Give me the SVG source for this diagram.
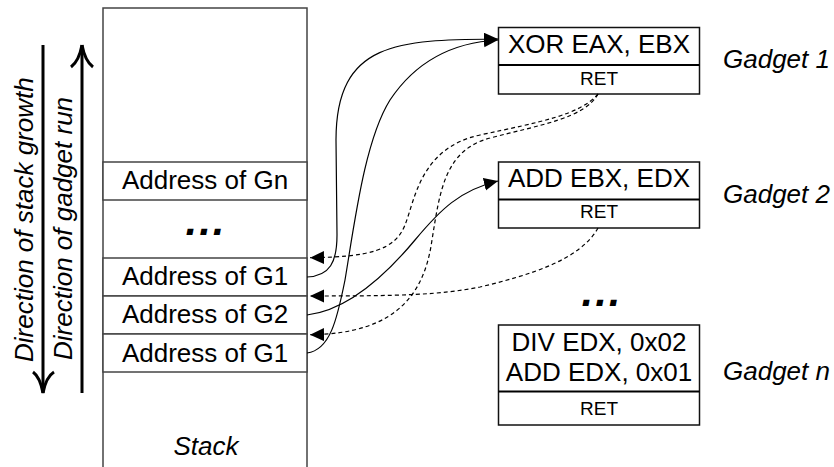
<svg xmlns="http://www.w3.org/2000/svg" width="834" height="467" viewBox="0 0 834 467">
<defs>
<style>
.t{font-family:"Liberation Sans",Arial,sans-serif;font-size:26px;fill:#000}
.c{text-anchor:middle}
.i{font-style:italic}
.s{font-size:19px}
.row{fill:#fff;stroke:#444;stroke-width:1.5}
.gb{fill:#fff;stroke:#111;stroke-width:1.5}
.dv{stroke:#000;stroke-width:2}
.dir{fill:none;stroke:#000;stroke-width:3}
.cn{fill:none;stroke:#000;stroke-width:1.2;marker-end:url(#ah)}
.dash{stroke-dasharray:4,3}
.dots{font-family:"Liberation Sans",Arial,sans-serif;font-size:42px;font-weight:bold;font-style:italic;text-anchor:middle;letter-spacing:2px}
</style>
<marker id="ah" markerUnits="userSpaceOnUse" markerWidth="15" markerHeight="14" refX="14" refY="6.5" orient="auto">
<path d="M0,0 L14,6.5 L0,13 z" fill="#000"/>
</marker>
</defs>
<rect width="834" height="467" fill="#fff"/>

<g id="stack">
<path d="M103,470 V8 H307 V470" fill="#fff" stroke="#444" stroke-width="1.5"/>
<text class="t c i" x="206" y="455">Stack</text>
</g>
<g id="addr-gn">
<rect class="row" x="103" y="162" width="204" height="38"/>
<text class="t c" x="205" y="189">Address of Gn</text>
</g>
<text class="dots" x="206" y="235">...</text>
<g id="addr-g1-top">
<rect class="row" x="103" y="258" width="204" height="38"/>
<text class="t c" x="205" y="285">Address of G1</text>
</g>
<g id="addr-g2">
<rect class="row" x="103" y="296" width="204" height="38"/>
<text class="t c" x="205" y="323">Address of G2</text>
</g>
<g id="addr-g1-bottom">
<rect class="row" x="103" y="334" width="204" height="38"/>
<text class="t c" x="205" y="361.5">Address of G1</text>
</g>

<g id="dir-stack-growth">
<line class="dir" x1="43" y1="45" x2="43" y2="393"/>
<path class="dir" d="M33,372 Q40,377 43,393 M54,372 Q46,377 43,393"/>
<text class="t i" transform="translate(33,362) rotate(-90)">Direction of stack growth</text>
</g>
<g id="dir-gadget-run">
<line class="dir" x1="82" y1="45" x2="82" y2="393"/>
<path class="dir" d="M71,67 Q79,61 82,45 M93,67 Q85,61 82,45"/>
<text class="t i" transform="translate(72,360) rotate(-90)">Direction of gadget run</text>
</g>

<g id="gadget1">
<rect class="gb" x="498.5" y="27.5" width="201" height="66.5"/>
<line class="dv" x1="498.5" y1="65" x2="699.5" y2="65"/>
<text class="t c" x="599" y="53">XOR EAX, EBX</text>
<text class="t c s" x="599" y="85">RET</text>
<text class="t i" x="723" y="68">Gadget 1</text>
</g>
<g id="gadget2">
<rect class="gb" x="498.5" y="162" width="201" height="66"/>
<line class="dv" x1="498.5" y1="199.5" x2="699.5" y2="199.5"/>
<text class="t c" x="599" y="186.5">ADD EBX, EDX</text>
<text class="t c s" x="599" y="218">RET</text>
<text class="t i" x="723" y="203">Gadget 2</text>
</g>
<text class="dots" x="602" y="306">...</text>
<g id="gadgetn">
<rect class="gb" x="498.5" y="325" width="201" height="100"/>
<line class="dv" x1="498.5" y1="391.5" x2="699.5" y2="391.5"/>
<text class="t c" x="599" y="351">DIV EDX, 0x02</text>
<text class="t c" x="599" y="381">ADD EDX, 0x01</text>
<text class="t c s" x="599" y="415">RET</text>
<text class="t i" x="723" y="380">Gadget n</text>
</g>

<g id="connectors">
<path class="cn" d="M307,277 C330,276 337,262 337,235 L336,140 C336,40 400,40 498,39"/>
<path class="cn" d="M307,353 C330,350 337,320 345,280 C355,220 365,140 390,100 C420,55 460,42 498,40"/>
<path class="cn" d="M307,315 C350,310 390,270 415,240 C440,210 460,190 498,181"/>
<path class="cn dash" d="M598,94 C580,115 540,122 480,135 C420,148 415,200 405,225 C395,250 370,257 310,257.7"/>
<path class="cn dash" d="M598,94 C585,118 540,125 490,138 C445,150 440,190 432,240 C425,290 400,334 310,334.7"/>
<path class="cn dash" d="M598,228 C580,260 530,275 480,287 C440,295 400,296 310,296"/>
</g>
</svg>
